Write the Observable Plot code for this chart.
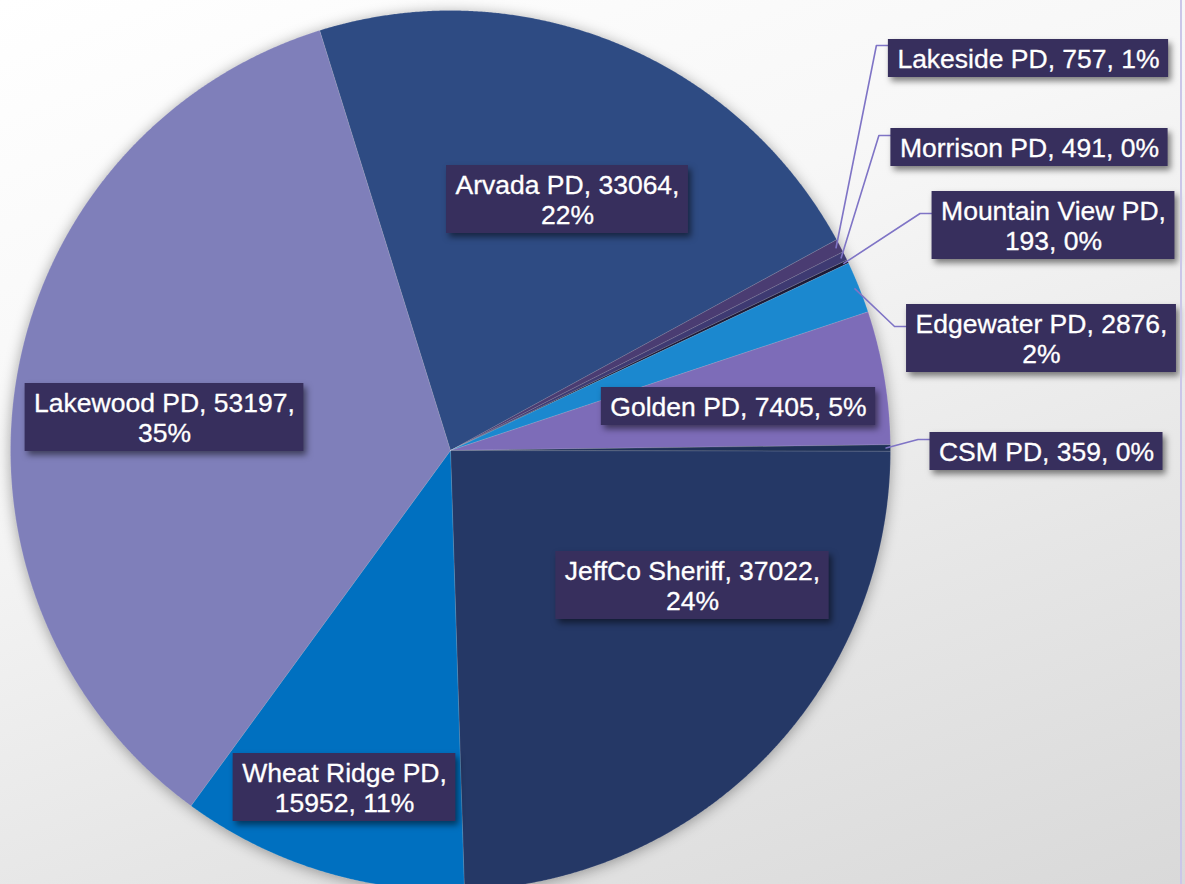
<!DOCTYPE html>
<html>
<head>
<meta charset="utf-8">
<script src="https://cdn.jsdelivr.net/npm/d3@7"></script>
<script src="https://cdn.jsdelivr.net/npm/@observablehq/plot@0.6"></script>
<style>
html, body { margin: 0; padding: 0; width: 1185px; height: 884px; overflow: hidden; }
body {
  position: relative;
  background: linear-gradient(160deg, #ffffff 0%, #f7f7f7 35%, #e6e6e6 70%, #d9d9d9 100%);
  font-family: "Liberation Sans", Arial, sans-serif;
}
#chart { position: absolute; left: 0; top: 0; }
#frame { position: absolute; left: 1180px; top: 0; width: 2px; height: 884px; background: #cbc6e8; }
</style>
</head>
<body>
<div id="chart"></div>
<div id="frame"></div>
<script>
// ---- data ----
const names = ["Arvada PD", "Lakeside PD", "Morrison PD", "Mountain View PD", "Edgewater PD",
               "Golden PD", "CSM PD", "JeffCo Sheriff", "Wheat Ridge PD", "Lakewood PD"];
const values = [33064, 757, 491, 193, 2876, 7405, 359, 37022, 15952, 53197];
const colors = ["#2e4b83", "#4a3c72", "#3e3a72", "#1c1a38", "#1b88cf",
                "#7d6cb8", "#1f3157", "#253866", "#0070c0", "#7f7fba"];

// ---- label layout (box centers in px, line breaks, leader attach y) ----
const labelCenterX = [567, 1028, 1029, 1053, 1041, 738, 1046, 692, 344, 164];
const labelCenterY = [199, 58, 147, 225, 338, 406, 451, 585, 787, 417];
const labelBreak   = ["pct", "none", "none", "name", "pct", "none", "none", "pct", "name", "pct"];
const leaderAttachY = [null, 45, 135, 213, 326, null, 439, null, null, null];

// ---- geometry constants ----
const W = 1185, H = 884;
const CX = 450, CY = 450, R = 440;
const START = -17.3 * Math.PI / 180;
const FONT = 26.5, LINE = 30, PADX = 9, PADY = 4;

const total = d3.sum(values);
const arcs = d3.pie().sort(null).value(d => d).startAngle(START).endAngle(START + 2 * Math.PI)(values);

// slice outlines
const sliceRows = [];
arcs.forEach((a, i) => {
  sliceRows.push({name: names[i], x: 0, y: 0});
  const n = Math.max(2, Math.ceil((a.endAngle - a.startAngle) / (0.2 * Math.PI / 180)));
  for (let k = 0; k <= n; k++) {
    const t = a.startAngle + (a.endAngle - a.startAngle) * k / n;
    sliceRows.push({name: names[i], x: Math.sin(t), y: -Math.cos(t)});
  }
  sliceRows.push({name: names[i], x: 0, y: 0});
});

// label text + boxes
const canvas = document.createElement("canvas");
const ctx = canvas.getContext("2d");
ctx.font = `${FONT}px "Liberation Sans", Arial, sans-serif`;
const toUX = px => (px - CX) / R;
const toUY = py => (py - CY) / R;

const labelRows = names.map((nm, i) => {
  const pct = Math.round(values[i] / total * 100);
  let lines;
  if (labelBreak[i] === "pct") lines = [`${nm}, ${values[i]},`, `${pct}%`];
  else if (labelBreak[i] === "name") lines = [`${nm},`, `${values[i]}, ${pct}%`];
  else lines = [`${nm}, ${values[i]}, ${pct}%`];
  const w = d3.max(lines, l => ctx.measureText(l).width) + 2 * PADX;
  const h = lines.length * LINE + 2 * PADY;
  const cx = labelCenterX[i], cy = labelCenterY[i];
  return {
    name: nm, text: lines.join("\n"),
    x: toUX(cx), y: toUY(cy),
    x1: toUX(cx - w / 2), x2: toUX(cx + w / 2),
    y1: toUY(cy - h / 2), y2: toUY(cy + h / 2),
    left: cx - w / 2
  };
});

// leader lines
const leaderRows = [];
arcs.forEach((a, i) => {
  if (leaderAttachY[i] == null) return;
  const mid = (a.startAngle + a.endAngle) / 2;
  const ay = leaderAttachY[i];
  const ax = labelRows[i].left;
  leaderRows.push({id: names[i], x: Math.sin(mid) * 0.99, y: -Math.cos(mid) * 0.99});
  leaderRows.push({id: names[i], x: toUX(ax - 12), y: toUY(ay)});
  leaderRows.push({id: names[i], x: toUX(ax), y: toUY(ay)});
});

const chart = Plot.plot({
  width: W, height: H,
  margin: 0,
  style: {background: "transparent", overflow: "hidden"},
  x: {domain: [toUX(0), toUX(W)], range: [0, W], axis: null},
  y: {domain: [toUY(0), toUY(H)], range: [0, H], axis: null},
  color: {domain: names, range: colors},
  marks: [
    Plot.line(sliceRows, {x: "x", y: "y", z: "name", fill: "name", stroke: "#ffffff",
      strokeOpacity: 0.12, strokeWidth: 1, curve: "linear"}),
    Plot.line(leaderRows, {x: "x", y: "y", z: "id", stroke: "#7f74c6", strokeWidth: 1.6,
      curve: "linear"}),
    Plot.rect(labelRows, {x1: "x1", x2: "x2", y1: "y1", y2: "y2", fill: "#372f5d", inset: 0}),
    Plot.text(labelRows, {x: "x", y: "y", text: "text", fill: "white", fontSize: FONT,
      fontFamily: "Liberation Sans, Arial, sans-serif", lineHeight: LINE / FONT,
      textAnchor: "middle", stroke: "white", strokeWidth: 0.3})
  ]
});

document.getElementById("chart").appendChild(chart);
const lineGroups = d3.select(chart).selectAll('g[aria-label="line"]').nodes();
if (lineGroups[0]) d3.select(lineGroups[0]).style("filter", "drop-shadow(0px 2px 7px rgba(0,0,0,0.35))");
d3.select(chart).selectAll('g[aria-label="rect"]').style("filter", "drop-shadow(3px 4px 3px rgba(0,0,0,0.5))");
</script>
</body>
</html>
